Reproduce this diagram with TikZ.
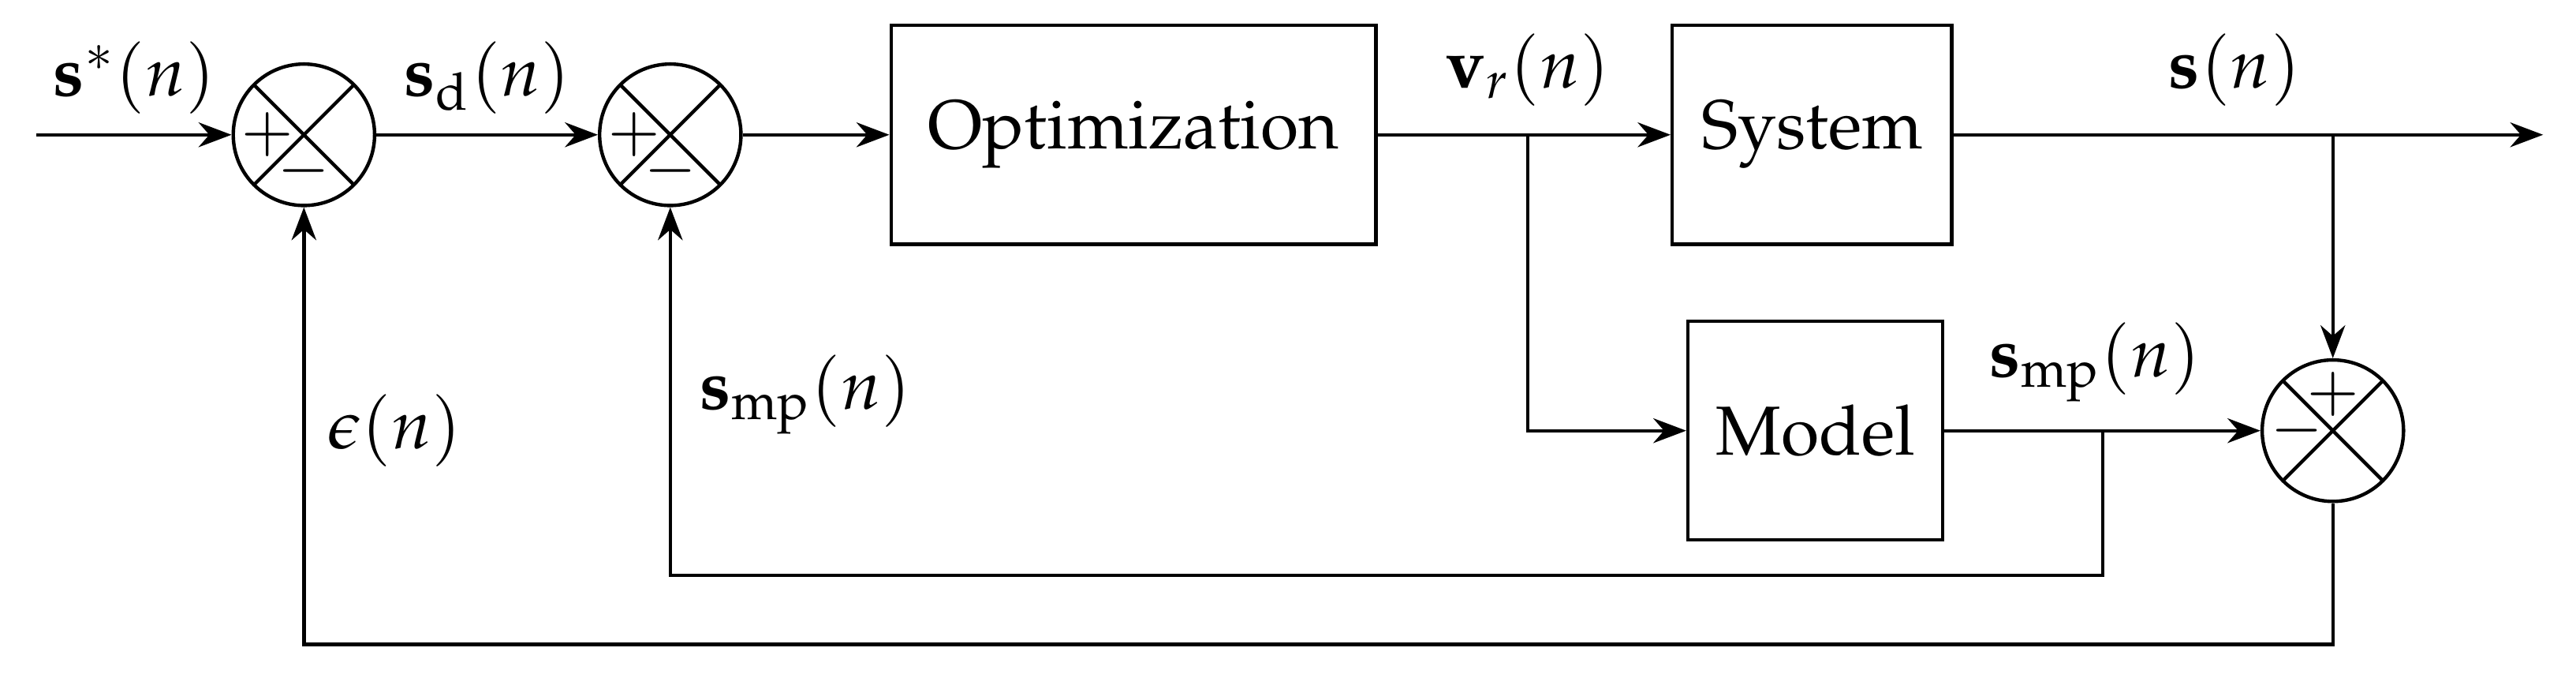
\documentclass[tikz,border=0pt]{standalone}
\usepackage[T1]{fontenc}
\usepackage{mathpazo}
\usetikzlibrary{positioning,arrows.meta}
\begin{document}
\begin{tikzpicture}
    [
    x=0.01cm, y=-0.01cm,
    font=\fontsize{12}{14}\selectfont,
    basic/.style={draw, semithick, text centered},
    block/.style={basic, rectangle, minimum height=1.33cm},
    sum/.style={basic, circle, minimum size=0.86cm, inner sep=0pt,
        path picture={\draw[semithick] (path picture bounding box.north west) -- (path picture bounding box.south east)
            (path picture bounding box.south west) -- (path picture bounding box.north east);}},
    sgn/.style={inner sep=0pt, font=\fontsize{11}{12}\selectfont},
    >={Stealth[]}
    ]
    \useasboundingbox (0,0) rectangle (1568,410);

    % Blocks
    \node [sum] (sa) at (185,82) {};
    \node [sum] (sb) at (408,82) {};
    \node [sum] (sc) at (1420,262) {};
    \node [block, minimum width=2.95cm] (opt) at (690,82) {Optimization};
    \node [block, minimum width=1.70cm] (sys) at (1103,82) {System};
    \node [block, minimum width=1.55cm] (mod) at (1105,262) {Model};
    % Signs
    \node [sgn] at ([xshift=-0.22cm]sa.center) {$+$};
    \node [sgn] at ([yshift=-0.22cm]sa.center) {$-$};
    \node [sgn] at ([xshift=-0.22cm]sb.center) {$+$};
    \node [sgn] at ([yshift=-0.22cm]sb.center) {$-$};
    \node [sgn] at ([yshift=0.22cm]sc.center) {$+$};
    \node [sgn] at ([xshift=-0.22cm]sc.center) {$-$};
    % Free ends and branch points
    \coordinate (in) at (22,82);
    \coordinate (out) at (1548,82);
    \coordinate (bv) at (930,82);
    \coordinate (bs) at (1420,82);
    \coordinate (bm) at (1280,262);
    % Forward path
    \draw [semithick, ->] (in) -- node[above] {$\mathbf{s}^{*}(n)$} (sa);
    \draw [semithick, ->] (sa) -- node[above] {$\mathbf{s}_{\mathrm{d}}(n)$} (sb);
    \draw [semithick, ->] (sb) -- (opt);
    \draw [semithick, ->] (opt) -- (sys);
    \node [above=0.05cm] at (bv) {$\mathbf{v}_{r}(n)$};
    \draw [semithick, ->] (sys) -- (out);
    \node [above=0.05cm] at (1360,82) {$\mathbf{s}(n)$};
    % Model path
    \draw [semithick, ->] (bv) |- (mod);
    \draw [semithick, ->] (bs) -- (sc);
    \draw [semithick, ->] (mod) -- (sc);
    \node [above=0.05cm] at (1275,262) {$\mathbf{s}_{\mathrm{mp}}(n)$};
    % Feedback
    \draw [semithick, ->] (bm) |- (408,350) -- (sb);
    \node at (490,240) {$\mathbf{s}_{\mathrm{mp}}(n)$};
    \draw [semithick, ->] (sc) |- (185,392) -- (sa);
    \node at (240,262) {$\epsilon(n)$};
\end{tikzpicture}
\end{document}
